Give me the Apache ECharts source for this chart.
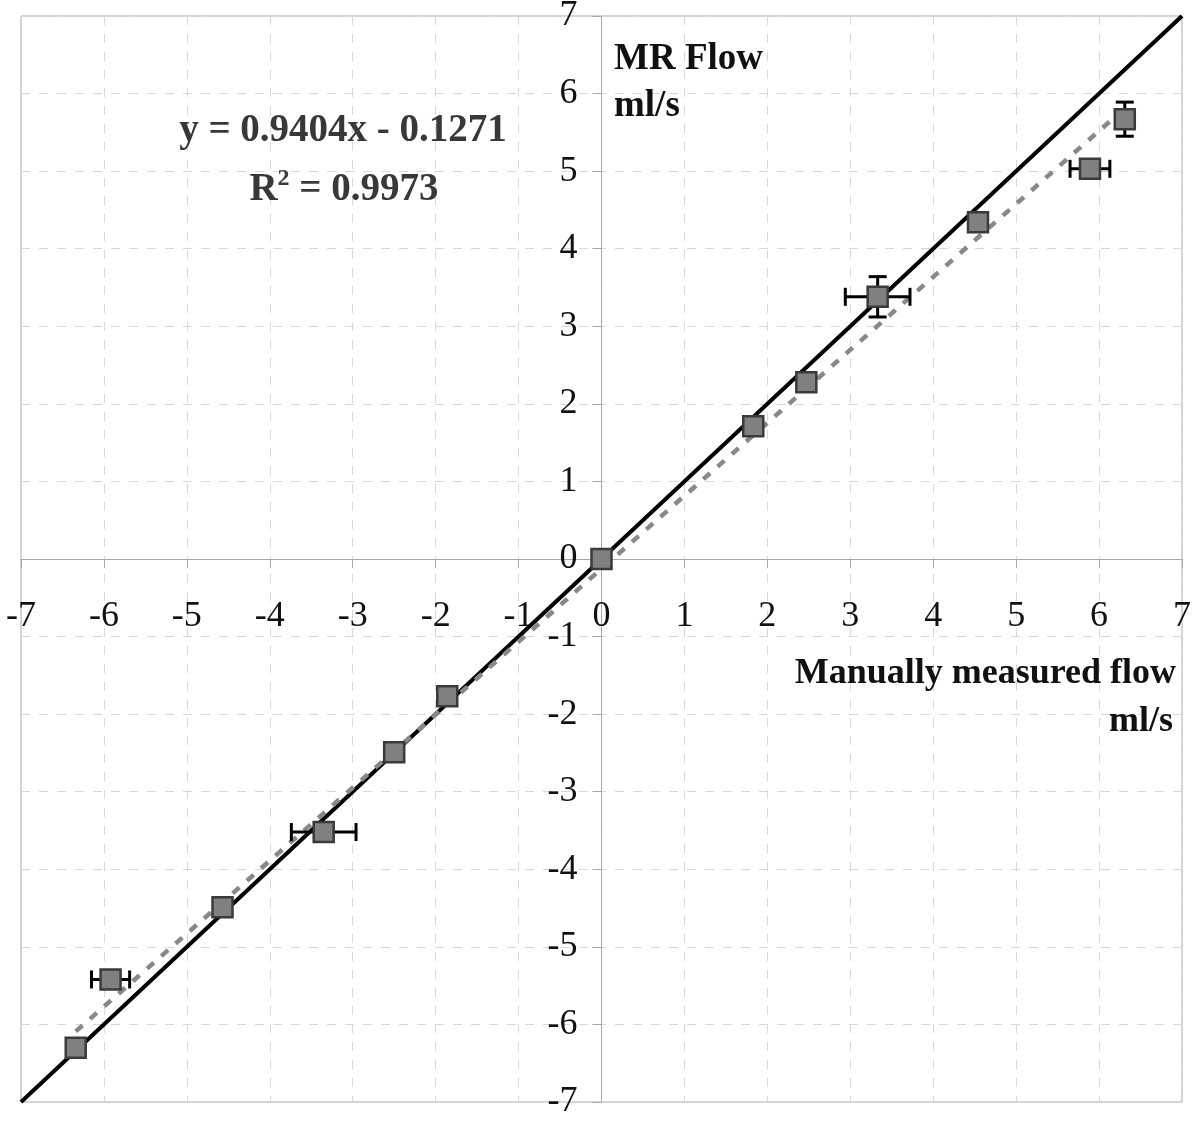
<!DOCTYPE html>
<html>
<head>
<meta charset="utf-8">
<script src="https://cdn.jsdelivr.net/npm/echarts@6/dist/echarts.min.js"></script>
<style>
html,body{margin:0;padding:0;background:#fff;}
#chart{width:1200px;height:1123px;}
</style>
</head>
<body>
<div id="chart"></div>
<script>
// Data
const xVals = [-6.34, -5.92, -4.57, -3.35, -2.50, -1.86, 0, 1.83, 2.47, 3.33, 4.54, 5.89, 6.31];
const yVals = [-6.30, -5.42, -4.49, -3.52, -2.49, -1.77, 0, 1.71, 2.28, 3.38, 4.34, 5.03, 5.67];
const xErr  = [0, 0.23, 0, 0.39, 0, 0, 0, 0, 0, 0.39, 0, 0.24, 0];
const yErr  = [0, 0.08, 0, 0.05, 0, 0, 0, 0, 0, 0.26, 0, 0, 0.22];
const identityX = [-7, 7];
const identityY = [-7, 7];
const trendX = [-6.34, 6.31];
const trendY = [-6.09, 5.81];
const axisMin = -7, axisMax = 7, axisStep = 1;
const eqLine1 = 'y = 0.9404x - 0.1271';
const eqR2 = '0.9973';
const yTitle = ['MR Flow', 'ml/s'];
const xTitle = ['Manually measured flow', 'ml/s'];

const FONT = '"Liberation Serif", "Times New Roman", serif';

const points = xVals.map((x, i) => [x, yVals[i]]);
const errData = xVals.map((x, i) => [x, yVals[i], xErr[i], yErr[i]]);

const GRID = {left: 21, right: 18, top: 16, bottom: 21};
const W = 1200, H = 1123;
const plotW = W - GRID.left - GRID.right;
const plotH = H - GRID.top - GRID.bottom;
// place axis lines at the zero value of the other axis
const xAxisOffset = -plotH * (0 - axisMin) / (axisMax - axisMin);
const yAxisOffset = -plotW * (0 - axisMin) / (axisMax - axisMin);

const chart = echarts.init(document.getElementById('chart'), null, {renderer: 'canvas'});

function axisCommon(isX) {
  return {
    type: 'value', min: axisMin, max: axisMax, interval: axisStep,
    position: isX ? 'bottom' : 'left',
    offset: isX ? xAxisOffset : yAxisOffset,
    axisLine: {show: true, onZero: false, lineStyle: {color: '#a8a8a8', width: 1}},
    axisTick: {show: true, inside: false, length: 9, lineStyle: {color: '#a8a8a8'}},
    splitLine: {show: true, lineStyle: {color: '#d8d8d8', type: [9, 9], width: 1}},
    axisLabel: {
      color: '#111', fontFamily: FONT, fontSize: 36,
      margin: isX ? 40 : 24,
      showMinLabel: true, showMaxLabel: true,
      hideOverlap: false
    }
  };
}

const option = {
  animation: false,
  backgroundColor: '#fff',
  grid: {left: GRID.left, right: GRID.right, top: GRID.top, bottom: GRID.bottom, show: true, borderColor: '#a8a8a8', borderWidth: 1, containLabel: false, outerBoundsMode: 'none'},
  xAxis: axisCommon(true),
  yAxis: axisCommon(false),
  series: [
    {
      type: 'line', data: identityX.map((x, i) => [x, identityY[i]]),
      showSymbol: false, symbol: 'none', z: 2,
      lineStyle: {color: '#000', width: 4}
    },
    {
      type: 'line', data: trendX.map((x, i) => [x, trendY[i]]),
      showSymbol: false, symbol: 'none', z: 3,
      lineStyle: {color: '#888', width: 4.5, type: [9, 10]}
    },
    {
      type: 'custom', z: 4, data: errData,
      encode: {x: 0, y: 1},
      renderItem: function (params, api) {
        const x = api.value(0), y = api.value(1), ex = api.value(2), ey = api.value(3);
        const children = [];
        const style = {stroke: '#000', lineWidth: 3, fill: null};
        const cap = 9;
        if (ex > 0) {
          const a = api.coord([x - ex, y]), b = api.coord([x + ex, y]);
          children.push({type: 'line', shape: {x1: a[0], y1: a[1], x2: b[0], y2: b[1]}, style});
          children.push({type: 'line', shape: {x1: a[0], y1: a[1] - cap, x2: a[0], y2: a[1] + cap}, style});
          children.push({type: 'line', shape: {x1: b[0], y1: b[1] - cap, x2: b[0], y2: b[1] + cap}, style});
        }
        if (ey > 0) {
          const a = api.coord([x, y - ey]), b = api.coord([x, y + ey]);
          children.push({type: 'line', shape: {x1: a[0], y1: a[1], x2: b[0], y2: b[1]}, style});
          children.push({type: 'line', shape: {x1: a[0] - cap, y1: a[1], x2: a[0] + cap, y2: a[1]}, style});
          children.push({type: 'line', shape: {x1: b[0] - cap, y1: b[1], x2: b[0] + cap, y2: b[1]}, style});
        }
        return {type: 'group', children};
      }
    },
    {
      type: 'scatter', data: points, z: 5,
      symbol: 'rect', symbolSize: 20,
      itemStyle: {color: '#808080', borderColor: '#3a3a3a', borderWidth: 2.5, opacity: 1}
    }
  ],
  graphic: [
    {type: 'text', x: 343, y: 131, z: 10,
      style: {text: eqLine1, fill: '#383838', font: 'bold 39px ' + FONT, textAlign: 'center', textVerticalAlign: 'middle'}},
    {type: 'text', x: 344, y: 190, z: 10,
      style: {
        text: '{r|R}{s|2}{r| = ' + eqR2 + '}',
        textAlign: 'center', textVerticalAlign: 'middle',
        rich: {
          r: {fill: '#383838', fontFamily: FONT, fontWeight: 'bold', fontSize: 39},
          s: {fill: '#383838', fontFamily: FONT, fontWeight: 'bold', fontSize: 24, verticalAlign: 'top', padding: [0, 0, 22, 0]}
        }
      }},
    {type: 'text', x: 614, y: 59, z: 10,
      style: {text: yTitle[0], fill: '#111', font: 'bold 37px ' + FONT, textAlign: 'left', textVerticalAlign: 'middle'}},
    {type: 'text', x: 614, y: 106, z: 10,
      style: {text: yTitle[1], fill: '#111', font: 'bold 37px ' + FONT, textAlign: 'left', textVerticalAlign: 'middle'}},
    {type: 'text', x: 1176, y: 674, z: 10,
      style: {text: xTitle[0], fill: '#111', font: 'bold 36px ' + FONT, textAlign: 'right', textVerticalAlign: 'middle'}},
    {type: 'text', x: 1173, y: 722, z: 10,
      style: {text: xTitle[1], fill: '#111', font: 'bold 36px ' + FONT, textAlign: 'right', textVerticalAlign: 'middle'}}
  ]
};
chart.setOption(option);
</script>
</body>
</html>
